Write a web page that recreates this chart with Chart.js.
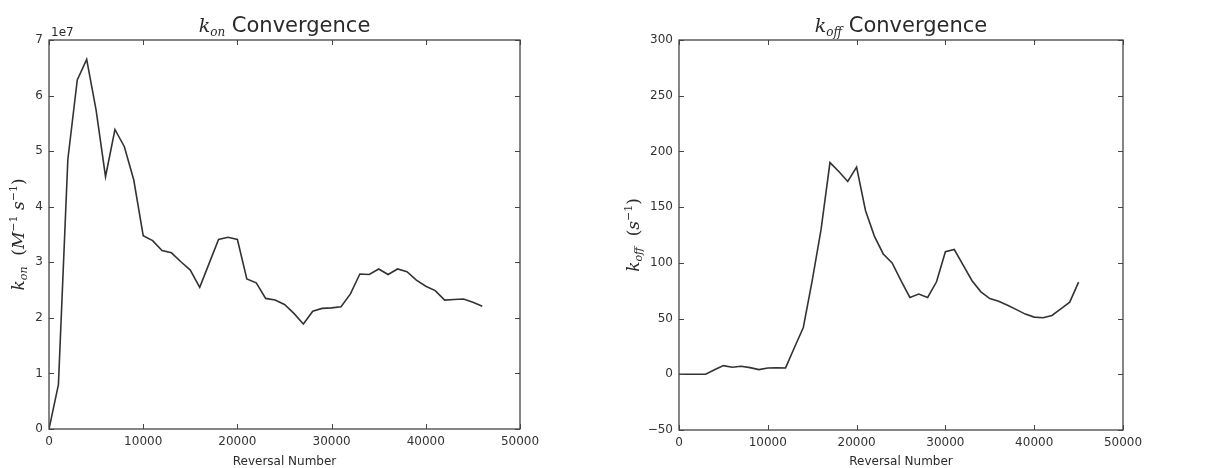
<!DOCTYPE html>
<html>
<head>
<meta charset="utf-8">
<script src="https://cdn.jsdelivr.net/npm/chart.js@4.4.0/dist/chart.umd.min.js"></script>
<style>
    html, body { margin: 0; padding: 0; background: #fff; }
    #wrap { position: relative; width: 1214px; height: 468px; }
    .box { position: absolute; top: 0; height: 468px; }
    #left-box { left: 0; width: 600px; }
    #right-box { left: 600px; width: 614px; }
</style>
</head>
<body>
<div id="wrap">
    <div class="box" id="left-box"><canvas id="konChart" width="600" height="468"></canvas></div>
    <div class="box" id="right-box"><canvas id="koffChart" width="614" height="468"></canvas></div>
</div>
<script>
// k_on convergence (values in M^-1 s^-1)
const konReversals = [0, 1000, 2000, 3000, 4000, 5000, 6000, 7000, 8000, 9000,
    10000, 11000, 12000, 13000, 14000, 15000, 16000, 17000, 18000, 19000,
    20000, 21000, 22000, 23000, 24000, 25000, 26000, 27000, 28000, 29000,
    30000, 31000, 32000, 33000, 34000, 35000, 36000, 37000, 38000, 39000,
    40000, 41000, 42000, 43000, 44000, 45000, 46000];
const konValues = [0, 0.80e7, 4.85e7, 6.28e7, 6.65e7, 5.74e7, 4.54e7, 5.39e7, 5.08e7, 4.48e7,
    3.48e7, 3.39e7, 3.21e7, 3.17e7, 3.01e7, 2.86e7, 2.55e7, 2.98e7, 3.41e7, 3.45e7,
    3.41e7, 2.70e7, 2.63e7, 2.35e7, 2.32e7, 2.24e7, 2.08e7, 1.89e7, 2.12e7, 2.17e7,
    2.18e7, 2.20e7, 2.43e7, 2.79e7, 2.78e7, 2.88e7, 2.78e7, 2.88e7, 2.83e7, 2.68e7,
    2.57e7, 2.49e7, 2.32e7, 2.33e7, 2.34e7, 2.28e7, 2.21e7];

// k_off convergence (values in s^-1)
const koffReversals = [0, 1000, 2000, 3000, 4000, 5000, 6000, 7000, 8000, 9000,
    10000, 11000, 12000, 13000, 14000, 15000, 16000, 17000, 18000, 19000,
    20000, 21000, 22000, 23000, 24000, 25000, 26000, 27000, 28000, 29000,
    30000, 31000, 32000, 33000, 34000, 35000, 36000, 37000, 38000, 39000,
    40000, 41000, 42000, 43000, 44000, 45000];
const koffValues = [0, 0, 0, 0, 4, 7.8, 6.3, 7.2, 6.0, 4.2,
    5.7, 5.8, 5.7, 24, 42, 84, 130, 190, 182, 173,
    186, 147, 124, 108, 100, 84, 69, 72, 69, 83,
    110, 112, 98, 84, 74, 68, 65.6, 62, 58, 54,
    51.3, 50.7, 52.8, 58.8, 64.7, 82.7];

const xTicks = [0, 10000, 20000, 30000, 40000, 50000];

Chart.defaults.font.family = '"DejaVu Sans", sans-serif';
Chart.defaults.font.size = 12;
Chart.defaults.color = '#333';

const SERIF_IT = '"DejaVu Serif", serif';
const INK = '#2a2a2a';

function drawRich(ctx, parts, cx, cy, rot) {
    ctx.save();
    ctx.translate(cx, cy);
    ctx.rotate(rot);
    ctx.textAlign = 'left';
    ctx.textBaseline = 'alphabetic';
    ctx.fillStyle = INK;
    let w = 0;
    parts.forEach(p => { ctx.font = p.font; w += ctx.measureText(p.t).width; });
    let x = -w / 2;
    parts.forEach(p => {
        ctx.font = p.font;
        ctx.fillText(p.t, x, p.dy || 0);
        x += ctx.measureText(p.t).width;
    });
    ctx.restore();
}

// matplotlib-like frame: box, inward ticks on all sides, titles
function makeFrame(cfg) {
    return {
        id: 'frame',
        afterDraw(chart) {
            const { ctx, chartArea: a, scales: { x, y } } = chart;
            ctx.save();
            ctx.strokeStyle = '#444';
            ctx.lineWidth = 1.3;
            ctx.strokeRect(a.left, a.top, a.right - a.left, a.bottom - a.top);
            ctx.beginPath();
            x.ticks.forEach(t => {
                const px = Math.round(x.getPixelForValue(t.value)) + 0.5;
                ctx.moveTo(px, a.bottom); ctx.lineTo(px, a.bottom - 5);
                ctx.moveTo(px, a.top); ctx.lineTo(px, a.top + 5);
            });
            y.ticks.forEach(t => {
                const py = Math.round(y.getPixelForValue(t.value)) + 0.5;
                ctx.moveTo(a.left, py); ctx.lineTo(a.left + 5, py);
                ctx.moveTo(a.right, py); ctx.lineTo(a.right - 5, py);
            });
            ctx.lineWidth = 1;
            ctx.stroke();
            ctx.restore();

            drawRich(ctx, cfg.title, (a.left + a.right) / 2, 32, 0);
            drawRich(ctx, [{ t: 'Reversal Number', font: '12px "DejaVu Sans"' }],
                (a.left + a.right) / 2, 465, 0);
            drawRich(ctx, cfg.yLabel, cfg.yLabelX, (a.top + a.bottom) / 2, -Math.PI / 2);
            if (cfg.offset) {
                ctx.save();
                ctx.font = '12px "DejaVu Sans"';
                ctx.fillStyle = INK;
                ctx.fillText(cfg.offset, a.left + 2, a.top - 4);
                ctx.restore();
            }
        }
    };
}

function buildChart(id, xs, ys, opt) {
    const ctx = document.getElementById(id).getContext('2d');
    return new Chart(ctx, {
        type: 'line',
        data: {
            datasets: [{
                data: xs.map((v, i) => ({ x: v, y: ys[i] })),
                borderColor: '#333',
                borderWidth: 1.6,
                pointRadius: 0,
                tension: 0,
                fill: false
            }]
        },
        options: {
            responsive: false,
            animation: false,
            layout: { padding: { left: 0, top: 40, right: opt.padRight, bottom: 0 } },
            scales: {
                x: {
                    type: 'linear', min: 0, max: 50000,
                    afterBuildTicks: s => { s.ticks = xTicks.map(v => ({ value: v })); },
                    afterFit: s => { s.height = opt.xHeight; },
                    grid: { display: false, drawTicks: false },
                    border: { display: false },
                    ticks: { padding: 6, maxRotation: 0, autoSkip: false, callback: v => String(v) }
                },
                y: {
                    type: 'linear', min: opt.yMin, max: opt.yMax,
                    afterBuildTicks: s => { s.ticks = opt.yTicks.map(v => ({ value: v })); },
                    afterFit: s => { s.width = opt.yWidth; },
                    grid: { display: false, drawTicks: false },
                    border: { display: false },
                    ticks: { padding: 6, autoSkip: false, callback: opt.yFormat }
                }
            },
            plugins: { legend: { display: false }, tooltip: { enabled: false } }
        },
        plugins: [makeFrame(opt.frame)]
    });
}

const konTicks = [0, 1e7, 2e7, 3e7, 4e7, 5e7, 6e7, 7e7];
const koffTicks = [-50, 0, 50, 100, 150, 200, 250, 300];

buildChart('konChart', konReversals, konValues, {
    padRight: 80, xHeight: 39, yWidth: 49,
    yMin: 0, yMax: 7e7, yTicks: konTicks,
    yFormat: v => String(Math.round(v / 1e7)),
    frame: {
        title: [
            { t: 'k', font: 'italic 19px ' + SERIF_IT },
            { t: 'on', font: 'italic 12px ' + SERIF_IT, dy: 4 },
            { t: ' Convergence', font: '21px "DejaVu Sans"' }
        ],
        yLabel: [
            { t: 'k', font: 'italic 17px ' + SERIF_IT },
            { t: 'on', font: 'italic 11px ' + SERIF_IT, dy: 3 },
            { t: '  (', font: '17px ' + SERIF_IT },
            { t: 'M', font: 'italic 17px ' + SERIF_IT },
            { t: '\u22121', font: '11px ' + SERIF_IT, dy: -7 },
            { t: ' s', font: 'italic 17px ' + SERIF_IT },
            { t: '\u22121', font: '11px ' + SERIF_IT, dy: -7 },
            { t: ')', font: '17px ' + SERIF_IT }
        ],
        yLabelX: 24,
        offset: '1e7'
    }
});

buildChart('koffChart', koffReversals, koffValues, {
    padRight: 91, xHeight: 38, yWidth: 79,
    yMin: -50, yMax: 300, yTicks: koffTicks,
    yFormat: v => (v < 0 ? '\u2212' + Math.abs(v) : String(v)),
    frame: {
        title: [
            { t: 'k', font: 'italic 19px ' + SERIF_IT },
            { t: 'off', font: 'italic 12px ' + SERIF_IT, dy: 4 },
            { t: ' Convergence', font: '21px "DejaVu Sans"' }
        ],
        yLabel: [
            { t: 'k', font: 'italic 17px ' + SERIF_IT },
            { t: 'off', font: 'italic 11px ' + SERIF_IT, dy: 3 },
            { t: '  (', font: '17px ' + SERIF_IT },
            { t: 's', font: 'italic 17px ' + SERIF_IT },
            { t: '\u22121', font: '11px ' + SERIF_IT, dy: -7 },
            { t: ')', font: '17px ' + SERIF_IT }
        ],
        yLabelX: 39,
        offset: null
    }
});
</script>
</body>
</html>
